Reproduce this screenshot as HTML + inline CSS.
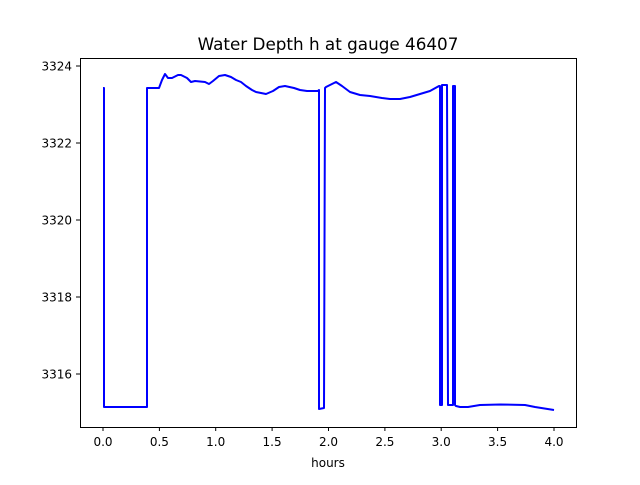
<!DOCTYPE html>
<html><head><style>body{margin:0;background:#fff}svg text{font-family:"DejaVu Sans","Liberation Sans",sans-serif;fill:#000}</style></head>
<body>
<svg width="640" height="480" xmlns="http://www.w3.org/2000/svg">
<rect width="640" height="480" fill="#fff"/>
<text x="328" y="50" font-size="16.8" text-anchor="middle">Water Depth h at gauge 46407</text>
<polyline fill="none" stroke="#0000ff" stroke-width="2" stroke-linejoin="round" points="
103,88 104,88 104,407 146,407 147,407 147,88 159,88 162,80 165,74 168,78 172,78 178,75 181,75 187,78 191,82 195,81 205,82 209,84 213,81 219,76 225,75 231,77 236,80 241,82 246,86 252,90 256,92 261,93 266,94 273,91 279,87 285,86 294,88 300,90 307,91 318,91 319,90 319,409 324,408 325,88 326,87 336,82 342,86 350,92 360,95 370,96 382,98 390,99 400,99 410,97 420,94 430,91 439,86 440,86 440,405 442,405 442,85 447,85 448,405 453,405 453,86 455,86 455,405 456,406 460,407 468,407 480,405 500,404.5 525,405 535,407 554,410"/>
<rect x="80.5" y="58.5" width="496" height="369" fill="none" stroke="#000" stroke-width="1"/>
<g stroke="#000" stroke-width="1">
<line x1="103" y1="427" x2="103" y2="431"/><line x1="159.4" y1="427" x2="159.4" y2="431"/><line x1="215.7" y1="427" x2="215.7" y2="431"/><line x1="272.1" y1="427" x2="272.1" y2="431"/><line x1="328.5" y1="427" x2="328.5" y2="431"/><line x1="384.9" y1="427" x2="384.9" y2="431"/><line x1="441.2" y1="427" x2="441.2" y2="431"/><line x1="497.6" y1="427" x2="497.6" y2="431"/><line x1="554" y1="427" x2="554" y2="431"/>
<line x1="76" y1="66" x2="80" y2="66"/><line x1="76" y1="143" x2="80" y2="143"/><line x1="76" y1="220" x2="80" y2="220"/><line x1="76" y1="297" x2="80" y2="297"/><line x1="76" y1="374" x2="80" y2="374"/>
</g>
<g font-size="12" text-anchor="middle">
<text x="103" y="446">0.0</text><text x="159.4" y="446">0.5</text><text x="215.7" y="446">1.0</text><text x="272.1" y="446">1.5</text><text x="328.5" y="446">2.0</text><text x="384.9" y="446">2.5</text><text x="441.2" y="446">3.0</text><text x="497.6" y="446">3.5</text><text x="554" y="446">4.0</text>
</g>
<g font-size="12" text-anchor="end">
<text x="72" y="70.5">3324</text><text x="72" y="147.5">3322</text><text x="72" y="224.5">3320</text><text x="72" y="301.5">3318</text><text x="72" y="378.5">3316</text>
</g>
<text x="328" y="467" font-size="12" text-anchor="middle">hours</text>
</svg>
</body></html>
